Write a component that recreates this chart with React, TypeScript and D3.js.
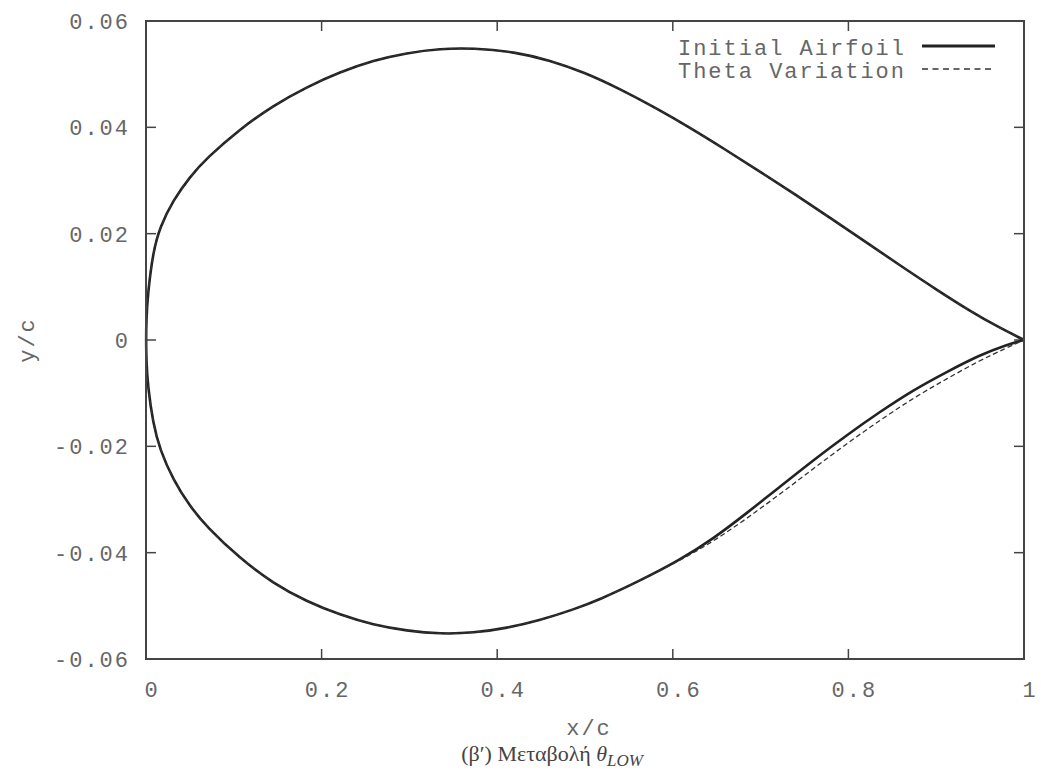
import React from "react";
import * as d3 from "d3";

// Initial airfoil, upper surface (x/c, y/c)
const upperX = [0, 0.0005, 0.002, 0.008, 0.016, 0.031, 0.05, 0.069, 0.107, 0.145, 0.183, 0.221, 0.259, 0.297, 0.335, 0.373, 0.42, 0.46, 0.5, 0.54, 0.58, 0.62, 0.66, 0.7, 0.74, 0.78, 0.82, 0.86, 0.9, 0.94, 0.97, 1.0];
const upperY = [0, 0.0042, 0.0085, 0.0166, 0.0213, 0.0263, 0.0307, 0.0342, 0.0397, 0.0441, 0.0476, 0.0504, 0.0526, 0.054, 0.0548, 0.0549, 0.0542, 0.0526, 0.0503, 0.0472, 0.0437, 0.0399, 0.0358, 0.0316, 0.0273, 0.0229, 0.0184, 0.0139, 0.0095, 0.0053, 0.0025, 0];

// Initial airfoil, lower surface (x/c, y/c)
const lowerX = [0, 0.0005, 0.002, 0.008, 0.016, 0.031, 0.05, 0.069, 0.107, 0.145, 0.183, 0.221, 0.259, 0.297, 0.335, 0.373, 0.411, 0.449, 0.487, 0.517, 0.56, 0.608, 0.646, 0.684, 0.722, 0.76, 0.798, 0.836, 0.874, 0.912, 0.95, 0.98, 1.0];
const lowerY = [0, -0.0042, -0.0085, -0.0157, -0.0207, -0.0263, -0.0313, -0.0351, -0.0411, -0.0458, -0.0492, -0.0517, -0.0536, -0.0547, -0.0553, -0.0551, -0.0542, -0.0527, -0.0507, -0.0488, -0.0455, -0.0414, -0.0374, -0.0326, -0.0276, -0.0226, -0.0179, -0.0135, -0.0094, -0.006, -0.0028, -0.0009, 0];

// Theta variation: same upper surface, aft lower surface pushed down
const thetaUpperY = upperY;
const thetaLowerY = [0, -0.0042, -0.0085, -0.0157, -0.0207, -0.0263, -0.0313, -0.0351, -0.0411, -0.0458, -0.0492, -0.0517, -0.0536, -0.0547, -0.0553, -0.0551, -0.0542, -0.0527, -0.0507, -0.0488, -0.0455, -0.0415, -0.0379, -0.0336, -0.029, -0.0242, -0.0195, -0.0151, -0.0109, -0.0073, -0.0038, -0.0015, 0];

const xTicks = [0, 0.2, 0.4, 0.6, 0.8, 1];
const yTicks = [-0.06, -0.04, -0.02, 0, 0.02, 0.04, 0.06];
const xTickLabels = ["0", "0.2", "0.4", "0.6", "0.8", "1"];
const yTickLabels = ["-0.06", "-0.04", "-0.02", "0", "0.02", "0.04", "0.06"];

const W = 1041;
const H = 777;
const L = 146, R = 1024, T = 21, B = 659;
const mono = "'Liberation Mono', 'DejaVu Sans Mono', monospace";
const textColor = "#666";

// Closed contour: trailing edge -> upper surface -> leading edge -> lower surface -> trailing edge
function contour(uy: number[], ly: number[]): [number, number][] {
  const pts: [number, number][] = [];
  for (let i = upperX.length - 1; i >= 0; i--) pts.push([upperX[i], uy[i]]);
  for (let i = 1; i < lowerX.length; i++) pts.push([lowerX[i], ly[i]]);
  return pts;
}

export default function App() {
  const x = d3.scaleLinear().domain([0, 1]).range([L, R]);
  const y = d3.scaleLinear().domain([-0.06, 0.06]).range([B, T]);
  const line = d3
    .line<[number, number]>()
    .x((d) => x(d[0]))
    .y((d) => y(d[1]))
    .curve(d3.curveBasis);

  const initialPath = line(contour(upperY, lowerY)) || "";
  const thetaPath = line(contour(thetaUpperY, thetaLowerY)) || "";
  const tick = 10;

  return (
    <svg width={W} height={H} style={{ position: "absolute", left: 0, top: 0, background: "#fff" }}>
      <rect x={0} y={0} width={W} height={H} fill="#fff" />
      {/* tick marks on all four sides, pointing inward */}
      <g stroke="#444" strokeWidth={1.5}>
        {xTicks.map((t, i) => (
          <g key={"xt" + i}>
            <line x1={x(t)} x2={x(t)} y1={B} y2={B - tick} />
            <line x1={x(t)} x2={x(t)} y1={T} y2={T + tick} />
          </g>
        ))}
        {yTicks.map((t, i) => (
          <g key={"yt" + i}>
            <line x1={L} x2={L + tick} y1={y(t)} y2={y(t)} />
            <line x1={R} x2={R - tick} y1={y(t)} y2={y(t)} />
          </g>
        ))}
      </g>
      {/* tick labels and axis titles */}
      <g fontFamily={mono} fontSize={22} fill={textColor} letterSpacing={2}>
        {xTicks.map((t, i) => (
          <text key={"xl" + i} x={x(t) + 6} y={697} textAnchor="middle">
            {xTickLabels[i]}
          </text>
        ))}
        {yTicks.map((t, i) => (
          <text key={"yl" + i} x={130} y={y(t) + 8} textAnchor="end">
            {yTickLabels[i]}
          </text>
        ))}
        <text x={(L + R) / 2 + 4} y={735} textAnchor="middle">x/c</text>
        <text transform={`translate(34,${(T + B) / 2}) rotate(-90)`} textAnchor="middle">y/c</text>
      </g>
      {/* airfoil contours */}
      <path d={initialPath} fill="none" stroke="#222" strokeWidth={2.6} strokeLinejoin="round" />
      <path d={thetaPath} fill="none" stroke="#333" strokeWidth={1.3} strokeDasharray="5,3" />
      {/* frame */}
      <rect x={L} y={T} width={R - L} height={B - T} fill="none" stroke="#444" strokeWidth={2} />
      {/* legend */}
      <g fontFamily={mono} fontSize={22} fill={textColor} letterSpacing={2}>
        <text x={906} y={55} textAnchor="end">Initial Airfoil</text>
        <text x={906} y={78} textAnchor="end">Theta Variation</text>
      </g>
      <line x1={922} x2={995} y1={46} y2={46} stroke="#222" strokeWidth={3} />
      <line x1={922} x2={995} y1={69} y2={69} stroke="#333" strokeWidth={1.3} strokeDasharray="6,4.5" />
      {/* caption */}
      <text x={643} y={761} textAnchor="end" fontFamily="'Liberation Serif', 'DejaVu Serif', serif" fontSize={22} fill="#444">
        (β′) Μεταβολή <tspan fontStyle="italic">θ</tspan>
        <tspan fontStyle="italic" fontSize={17} dy={5}>LOW</tspan>
      </text>
    </svg>
  );
}
